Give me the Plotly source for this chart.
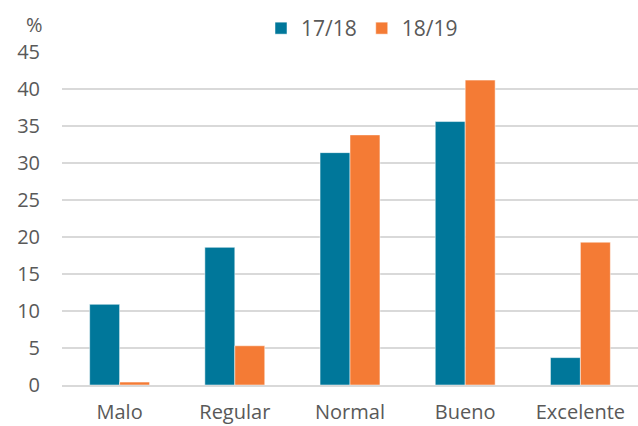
import plotly.graph_objects as go

categories = ["Malo", "Regular", "Normal", "Bueno", "Excelente"]
s1718 = [10.9, 18.6, 31.4, 35.6, 3.7]
s1819 = [0.4, 5.3, 33.8, 41.2, 19.3]
yticks = [0, 5, 10, 15, 20, 25, 30, 35, 40, 45]

font_fam = "Open Sans, sans-serif"
txt = "#595959"
fs = 20

fig = go.Figure()
fig.add_bar(name="17/18", x=categories, y=s1718, marker=dict(color="#00779A", line=dict(color="#ffffff", width=0.5)))
fig.add_bar(name="18/19", x=categories, y=s1819, marker=dict(color="#F47B35", line=dict(color="#ffffff", width=0.5)))

fig.update_layout(
    width=638, height=426,
    margin=dict(l=62, r=0, t=52, b=41),
    paper_bgcolor="white", plot_bgcolor="white",
    barmode="group", bargap=0.48, bargroupgap=0,
    font=dict(family=font_fam, size=fs, color=txt),
    legend=dict(orientation="h", x=362 / 638, xanchor="center", xref="container",
                y=1 - 8 / 426, yanchor="top", yref="container",
                font=dict(size=21, color=txt), itemwidth=30, traceorder="normal"),
    showlegend=True,
)
fig.update_yaxes(range=[0, 45], tickvals=yticks, showgrid=True, gridcolor="#d9d9d9", gridwidth=1.5,
                 zeroline=False, showline=False, ticks="", ticklabelstandoff=21, automargin=False,
                 tickfont=dict(size=fs))
fig.update_xaxes(showline=True, linecolor="#d9d9d9", linewidth=1.5, ticks="", ticklabelstandoff=8,
                 automargin=False, tickfont=dict(size=fs))
fig.add_annotation(text="%", xref="paper", yref="paper", x=-0.03, y=1.0, yshift=12,
                   xanchor="right", yanchor="bottom", showarrow=False, font=dict(size=fs, color=txt))

fig.write_html("out.html")
